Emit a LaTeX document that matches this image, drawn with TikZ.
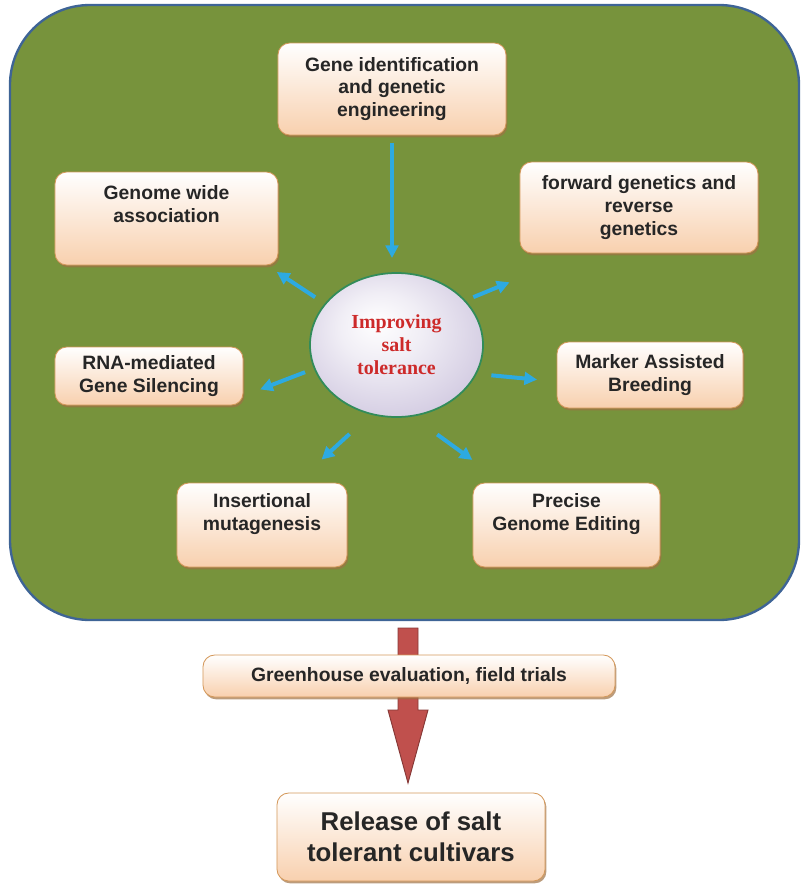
\documentclass[tikz,border=0pt]{standalone}
\usepackage{fontspec}
\setmainfont{Liberation Sans}
\newfontfamily\hubfont{Liberation Serif}
\usetikzlibrary{arrows.meta,shadows,shapes.geometric}
\definecolor{leaf}{RGB}{119,147,60}
\definecolor{frameblue}{RGB}{62,100,150}
\definecolor{peach}{RGB}{248,208,174}
\definecolor{peachline}{RGB}{212,152,90}
\definecolor{spokeblue}{RGB}{45,170,225}
\definecolor{flowred}{RGB}{192,80,77}
\definecolor{hubred}{RGB}{205,42,42}
\definecolor{lavender}{RGB}{196,186,216}
\definecolor{hubline}{RGB}{50,140,90}
\pgfdeclareradialshading{hubshade}{\pgfpoint{-6bp}{8bp}}{%
  color(0bp)=(white); color(12bp)=(white!75!lavender);
  color(30bp)=(white!25!lavender); color(50bp)=(lavender)}
\begin{document}
\begin{tikzpicture}[
  x=0.03cm,y=-0.03cm,
  boxtext/.style={align=center,text=black!85,
    font=\bfseries\fontsize{16.5}{19.5}\selectfont},
  method/.style={boxtext,draw=peachline,line width=0.7pt,rounded corners=10pt,
    top color=white,bottom color=peach,inner sep=0pt,outer sep=0pt,
    drop shadow={shadow xshift=1.2pt,shadow yshift=-2pt,
      fill=peachline!75!black,opacity=.7}},
  result/.style={method,font=\bfseries\fontsize{22}{26}\selectfont},
  hub/.style={ellipse,draw=hubline,line width=1.5pt,inner sep=0pt,outer sep=0pt,
    shading=hubshade,align=center,text=hubred,
    font=\hubfont\bfseries\fontsize{17}{19.5}\selectfont},
  spoke/.style={-{Triangle[length=0.38cm,width=0.38cm]},line width=0.12cm,spokeblue}
]
  \useasboundingbox (0,0) rectangle (801,885);
  \draw[frameblue,line width=2pt,fill=leaf,rounded corners=2.4cm]
    (10,5) rectangle (799,620);

  \node[hub,minimum width=5.19cm,minimum height=4.32cm] (core) at (396.5,345)
    {Improving\\salt\\tolerance};

  \node[method,minimum width=6.84cm,minimum height=2.76cm] (gene) at (392,89)
    {Gene identification\\and genetic\\engineering};
  \node[method,minimum width=6.69cm,minimum height=2.79cm,
    label={[boxtext,yshift=0.43cm]center:Genome wide\\association}]
    (gwas) at (166.5,218.5) {};
  \node[method,minimum width=7.14cm,minimum height=2.73cm] (fwd) at (639,207.5)
    {forward genetics and\\reverse\\genetics};
  \node[method,minimum width=5.64cm,minimum height=1.74cm] (rna) at (149,376)
    {RNA-mediated\\Gene Silencing};
  \node[method,minimum width=5.58cm,minimum height=1.98cm] (mab) at (650,375)
    {Marker Assisted\\Breeding};
  \node[method,minimum width=5.1cm,minimum height=2.52cm,
    label={[boxtext,yshift=0.33cm]center:Insertional\\mutagenesis}]
    (ins) at (262,525) {};
  \node[method,minimum width=5.61cm,minimum height=2.52cm,
    label={[boxtext,yshift=0.33cm]center:Precise\\Genome Editing}]
    (pge) at (566.5,525) {};

  \draw[spoke,shorten <=0.24cm,shorten >=0.45cm] (gene.south) -- (gene.south |- core.north);
  \draw[spoke,shorten <=0.37cm,shorten >=0.38cm] (core.150) -- (gwas.-25);
  \draw[spoke,shorten <=0.31cm,shorten >=0.55cm] (core.196) -- (rna.-12.5);
  \draw[spoke,shorten <=0.28cm,shorten >=2.31cm] (core.33) -- (fwd.218);
  \draw[spoke,shorten <=0.47cm,shorten >=0.6cm] (core.-20) -- (mab.184);
  \draw[spoke,shorten <=0.89cm,shorten >=1.04cm] (core.-110) -- (ins.51);
  \draw[spoke,shorten <=0.95cm,shorten >=1.18cm] (core.-78) -- (pge.146);

  \draw[draw=flowred!70!black,fill=flowred,line width=0.8pt]
    (398,628) -- (418,628) -- (418,710) -- (428,710) -- (408,783)
    -- (388,710) -- (398,710) -- cycle;
  \node[method,minimum width=12.36cm,minimum height=1.26cm] (trial) at (409,676)
    {Greenhouse evaluation, field trials};
  \node[result,minimum width=8.04cm,minimum height=2.64cm] (release) at (411,837)
    {Release of salt\\tolerant cultivars};
\end{tikzpicture}
\end{document}
